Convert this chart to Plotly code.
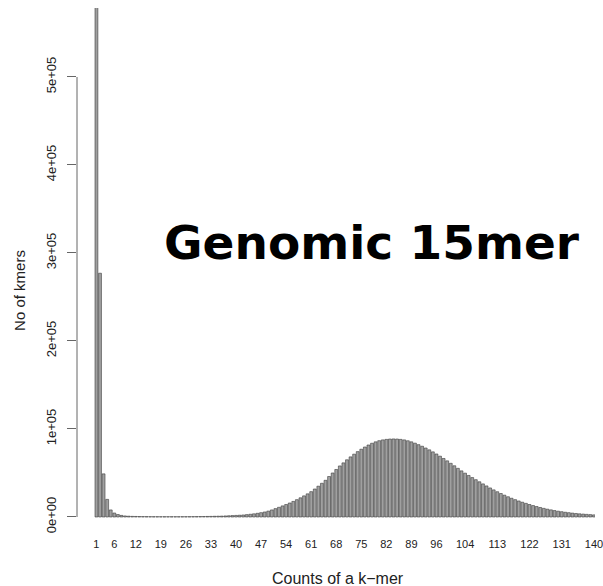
import plotly.graph_objects as go

# k-mer count (x) and number of k-mers with that count (y)
counts = list(range(1, 146))
n_kmers = [
    1150000, 277000, 49000, 20000, 8000, 4500, 2800, 1800, 1200, 900,
    700, 600, 500, 450, 400, 350, 330, 320, 300, 300,
    300, 300, 300, 300, 320, 340, 360, 400, 450, 500,
    550, 620, 700, 800, 900, 1000, 1200, 1400, 1600, 1800,
    2000, 2300, 2700, 3100, 3600, 4200, 4900, 5700, 6700, 8000,
    9500, 11000, 12600, 14200, 15900, 17700, 19700, 21800, 24000, 26300,
    28800, 31800, 35000, 38300, 41700, 46000, 50000, 54000, 58000, 61500,
    65000, 68300, 71400, 74300, 77000, 79500, 81800, 83800, 85400, 86700,
    87600, 88200, 88600, 88700, 88600, 88200, 87600, 86600, 85400, 83900,
    82200, 80400, 78400, 76300, 74000, 71600, 69100, 66500, 63800, 61000,
    58200, 55300, 52400, 49800, 47200, 44800, 42400, 40000, 37600, 35300,
    33000, 30800, 28700, 26700, 24800, 23000, 21300, 19700, 18200, 16800,
    15500, 14200, 13000, 11900, 10800, 9800, 8900, 8100, 7300, 6600,
    6000, 5400, 4900, 4400, 4000, 3600, 3300, 3000, 2700, 2400,
    2200, 2000, 1800, 1600, 1450,
]
x_ticks = [1, 6, 12, 19, 26, 33, 40, 47, 54, 61, 68, 75, 82, 89, 96, 104, 113, 122, 131, 140]
y_ticks = [0, 100000, 200000, 300000, 400000, 500000]
y_tick_text = ["0e+00", "1e+05", "2e+05", "3e+05", "4e+05", "5e+05"]

W, H = 603, 586
ML, MR, MT, MB = 77, 0, 8, 50
PW, PH = W - ML - MR, H - MT - MB


def px_x(p):
    return (p - ML) / PW


def px_y(p):
    return (H - MB - p) / PH


fig = go.Figure(
    go.Bar(
        x=counts,
        y=n_kmers,
        marker=dict(color="#a0a0a0", line=dict(color="#3a3a3a", width=0.6)),
        hoverinfo="x+y",
    )
)

fig.update_layout(
    width=W,
    height=H,
    margin=dict(l=ML, r=MR, t=MT, b=MB, pad=0),
    paper_bgcolor="white",
    plot_bgcolor="white",
    bargap=0.2,
    showlegend=False,
    font=dict(family="Liberation Sans, Arial, sans-serif", color="#222"),
    xaxis=dict(
        range=[-4.43, 140.3],
        tickmode="array",
        tickvals=x_ticks,
        ticktext=[str(v) for v in x_ticks],
        tickangle=0,
        ticks="",
        showline=False,
        showgrid=False,
        zeroline=False,
        ticklabeloverflow="allow",
        tickfont=dict(size=11, color="#222"),
    ),
    yaxis=dict(
        range=[-21600, 578400],
        tickmode="array",
        tickvals=y_ticks,
        ticktext=y_tick_text,
        tickangle=-90,
        ticks="outside",
        ticklen=9,
        tickwidth=1,
        tickcolor="#666",
        ticklabelstandoff=6,
        showline=False,
        showgrid=False,
        zeroline=False,
        tickfont=dict(size=13, color="#222"),
    ),
    shapes=[
        dict(
            type="line",
            xref="paper",
            yref="y",
            x0=0,
            x1=0,
            y0=y_ticks[0],
            y1=y_ticks[-1],
            line=dict(color="#666", width=1),
        )
    ],
    annotations=[
        dict(
            text="No of kmers",
            xref="paper",
            yref="paper",
            x=px_x(18),
            y=px_y(290),
            xanchor="center",
            yanchor="middle",
            textangle=-90,
            showarrow=False,
            font=dict(size=15, color="#222"),
        ),
        dict(
            text="Counts of a k\u2212mer",
            xref="paper",
            yref="paper",
            x=px_x(342),
            y=px_y(578),
            xanchor="center",
            yanchor="middle",
            showarrow=False,
            font=dict(size=16, color="#222"),
        ),
        dict(
            text="<b>Genomic 15mer</b>",
            xref="paper",
            yref="paper",
            x=px_x(377),
            y=px_y(242),
            xanchor="center",
            yanchor="middle",
            showarrow=False,
            font=dict(family="DejaVu Sans, Verdana, sans-serif", size=47, color="black"),
        ),
    ],
)

fig.write_html("out.html")
